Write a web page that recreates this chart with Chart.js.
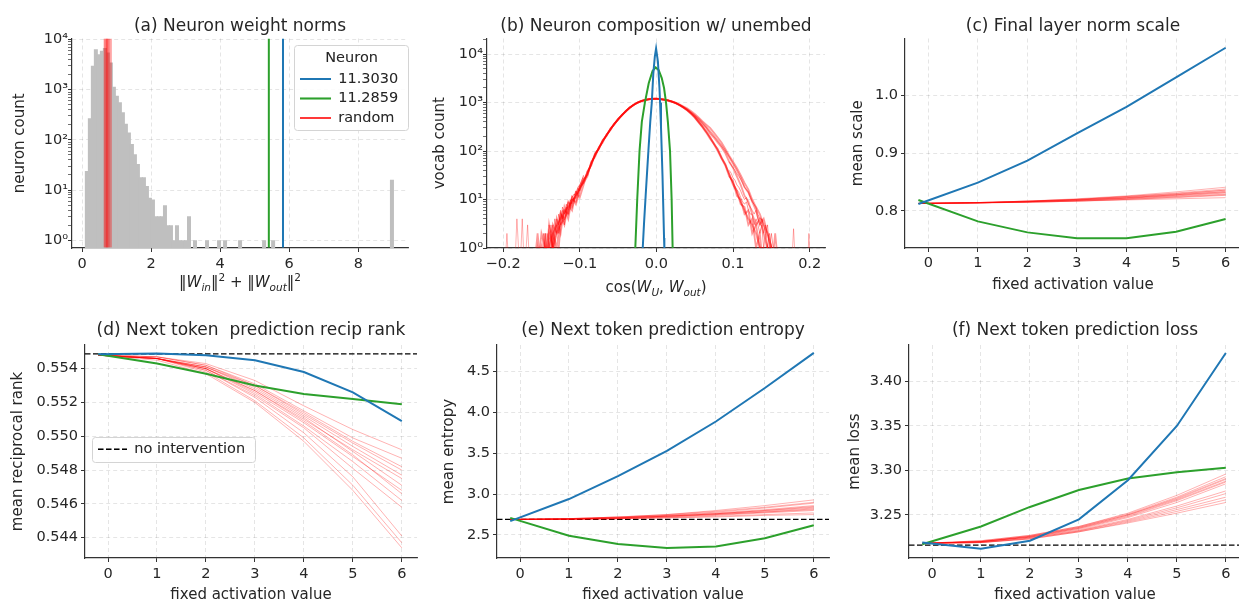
<!DOCTYPE html>
<html>
<head>
<meta charset="utf-8">
<script src="https://cdn.jsdelivr.net/npm/chart.js@4/dist/chart.umd.min.js"></script>
<style>
html, body { margin: 0; padding: 0; background: #fff; overflow: hidden; }
#wrap { position: relative; width: 1239px; height: 604px; overflow: hidden; }
.panel { position: absolute; }
</style>
</head>
<body>
<div id="wrap">
  <div class="panel" style="left:0;top:0"><canvas id="cA" width="415" height="300"></canvas></div>
  <div class="panel" style="left:415px;top:0"><canvas id="cB" width="415" height="300"></canvas></div>
  <div class="panel" style="left:830px;top:0"><canvas id="cC" width="411" height="300"></canvas></div>
  <div class="panel" style="left:0;top:300px"><canvas id="cD" width="420" height="304"></canvas></div>
  <div class="panel" style="left:420px;top:300px"><canvas id="cE" width="415" height="304"></canvas></div>
  <div class="panel" style="left:835px;top:300px"><canvas id="cF" width="406" height="304"></canvas></div>
</div>
<script>
// ---------- (a) neuron weight norms ----------
const aBinX = [0.140, 0.227, 0.314, 0.401, 0.488, 0.575, 0.662, 0.749, 0.836, 0.923,
  1.010, 1.097, 1.184, 1.271, 1.358, 1.445, 1.532, 1.619, 1.706, 1.793,
  1.880, 1.967, 2.054, 2.141, 2.228, 2.315, 2.402, 2.489, 2.576, 2.663,
  2.750, 2.837, 2.924, 3.011, 3.098, 3.272, 3.620, 3.968, 4.142, 4.577,
  5.273, 5.534, 8.975];
const aBinCount = [24, 270, 3000, 6400, 5100, 5950, 6800, 5500, 3500, 1150,
  760, 560, 355, 210, 140, 83, 52, 33, 18, 18,
  12, 7, 6.5, 3, 3, 3, 5, 2, 2, 1,
  2, 1, 1, 1, 3, 1, 1, 1, 1, 1,
  1, 1, 16];
const aRandomX = [0.64, 0.66, 0.67, 0.69, 0.70, 0.71, 0.72, 0.73, 0.74, 0.75, 0.77, 0.78, 0.80, 0.82, 0.85];
const aBlueX = 5.82;
const aGreenX = 5.41;
const aTicksX = [0, 2, 4, 6, 8];
const logMajor = [1, 10, 100, 1000, 10000];
const aMinor = [2, 3, 4, 5, 6, 7, 8, 9, 20, 30, 40, 50, 60, 70, 80, 90,
  200, 300, 400, 500, 600, 700, 800, 900, 2000, 3000, 4000, 5000, 6000, 7000, 8000, 9000];
const bMinor = aMinor.concat([20000]);

// ---------- (b) composition with unembed ----------
const bBlueX = [-0.0178, -0.016, -0.014, -0.012, -0.010, -0.008, -0.006, -0.004, -0.002, -0.0004, 0.002, 0.004, 0.0048, 0.006, 0.008, 0.010, 0.0104];
const bBlueY = [1, 3.5, 12, 40, 130, 400, 1000, 4000, 9000, 13000, 7000, 2000, 1000, 320, 30, 1.6, 1];
const bGreenX = [-0.0275, -0.025, -0.022, -0.019, -0.015, -0.010, -0.005, -0.001, 0.003, 0.007, 0.010, 0.0126, 0.015, 0.0178, 0.0199, 0.0212];
const bGreenY = [1, 10, 100, 400, 1000, 2500, 4500, 5300, 4700, 3200, 2000, 1000, 400, 100, 10, 1];
const bRandX = [-0.160, -0.155, -0.150, -0.145, -0.140, -0.135, -0.130, -0.125, -0.120, -0.115,
  -0.110, -0.105, -0.100, -0.095, -0.090, -0.085, -0.080, -0.075, -0.070, -0.065,
  -0.060, -0.055, -0.050, -0.045, -0.040, -0.035, -0.030, -0.025, -0.020, -0.015,
  -0.010, -0.005, 0.000, 0.005, 0.010, 0.015, 0.020, 0.025, 0.030, 0.035,
  0.040, 0.045, 0.050, 0.055, 0.060, 0.065, 0.070, 0.075, 0.080, 0.085,
  0.090, 0.095, 0.100, 0.105, 0.110, 0.115, 0.120, 0.125, 0.130, 0.135,
  0.140, 0.145, 0.150, 0.155, 0.160];
const bRand = [
  [0.3,0.3,0.3,1,1,2,3,4,5.6,7,9,12,16,24,35,55,83,115,160,215,280,360,450,550,660,780,890,990,1070,1130,1170,1195,1200,1180,1150,1110,1050,980,890,800,700,600,500,400,320,250,190,145,107,75,52,34,22,14,9,6,4,3,2,1,1,0.3,0.3,0.3,0.3],
  [0.3,2,0.3,0.3,3,1,2,5,3,8,6,14,11,20,38,50,90,110,170,205,290,350,460,540,670,770,900,980,1080,1120,1180,1190,1210,1170,1160,1100,1060,970,900,810,720,620,530,440,360,300,230,190,150,120,90,60,45,30,20,12,9,5,3,4,2,1,0.3,2,0.3],
  [0.3,0.3,1,0.3,2,1,0.3,3,6,5,10,9,18,22,30,60,80,120,150,220,270,370,440,560,650,790,880,1000,1060,1140,1160,1200,1190,1190,1140,1120,1040,990,880,790,690,590,490,390,310,240,180,140,100,70,50,30,24,12,10,5,6,2,3,1,0.3,1,0.3,0.3,0.3],
  [1,0.3,0.3,2,0.3,1,4,2,7,4,11,8,15,26,32,58,76,118,165,210,285,355,455,545,665,775,895,985,1075,1125,1175,1190,1205,1185,1155,1105,1055,985,905,815,725,635,545,465,385,315,255,205,165,130,100,75,55,40,28,18,14,9,6,3,4,2,1,0.3,1],
  [0.3,1,0.3,1,0.3,3,2,3,4,9,7,13,17,23,37,52,86,112,158,218,276,365,445,555,655,785,885,995,1065,1135,1165,1200,1195,1175,1145,1115,1045,975,895,795,705,605,505,405,325,255,195,140,110,72,54,33,20,15,8,7,3,4,1,2,0.3,0.3,1,0.3,0.3],
  [0.3,0.3,2,1,0.3,2,1,5,4,6,10,11,19,25,33,54,84,116,162,213,282,362,452,552,662,782,892,992,1072,1132,1172,1198,1202,1182,1152,1112,1062,1002,922,842,762,672,582,492,412,352,300,240,190,150,110,80,60,45,32,22,16,10,7,5,3,2,1,0.3,1]
];
// finer noisy tails of other random neurons
const bTailLX = [-0.1500, -0.1475, -0.1450, -0.1425, -0.1400, -0.1375, -0.1350, -0.1325, -0.1300, -0.1275,
  -0.1250, -0.1225, -0.1200, -0.1175, -0.1150, -0.1125, -0.1100, -0.1075, -0.1050, -0.1025,
  -0.1000, -0.0975, -0.0950];
const bTailL = [
  [0.3, 1, 0.3, 2, 1, 3, 1, 2, 4, 3, 6, 4, 5, 8, 6, 9, 12, 10, 14, 17, 15, 22, 28],
  [1, 0.3, 2, 0.3, 3, 2, 1, 4, 2, 5, 3, 7, 5, 6, 9, 8, 11, 13, 12, 18, 20, 25, 30],
  [0.3, 2, 1, 0.3, 1, 2, 3, 1, 3, 2, 4, 6, 3, 7, 5, 10, 8, 12, 15, 13, 19, 24, 32]
];
const bTailRX = [0.0950, 0.0975, 0.1000, 0.1025, 0.1050, 0.1075, 0.1100, 0.1125, 0.1150, 0.1175,
  0.1200, 0.1225, 0.1250, 0.1275, 0.1300, 0.1325, 0.1350, 0.1375, 0.1400, 0.1425,
  0.1450, 0.1475, 0.1500, 0.1525, 0.1550, 0.1575, 0.1600];
const bTailR = [
  [40, 35, 28, 25, 20, 18, 15, 12, 10, 11, 8, 7, 6, 5, 6, 4, 3, 4, 2, 3, 1, 2, 1, 0.3, 1, 0.3, 0.3],
  [30, 26, 22, 19, 16, 14, 11, 9, 8, 9, 6, 5, 5, 3, 4, 3, 2, 3, 1, 2, 0.3, 1, 0.3, 1, 0.3, 0.3, 0.3],
  [60, 52, 45, 40, 34, 30, 26, 22, 18, 16, 14, 11, 9, 8, 7, 5, 4, 4, 3, 2, 3, 1, 2, 1, 0.3, 1, 0.3]
];
const bSpikeLX = [-0.198, -0.195, -0.192, -0.185, -0.182, -0.178, -0.175, -0.172, -0.168, -0.165];
const bSpikeLY = [0.3, 2, 0.3, 0.3, 4, 0.3, 4, 0.3, 3, 0.3];
const bSpikeRX = [0.176, 0.179, 0.182, 0.197, 0.199, 0.201];
const bSpikeRY = [0.3, 2.5, 0.3, 0.3, 2, 0.3];
const bTicksX = [-0.2, -0.1, 0, 0.1, 0.2];

// ---------- (c)-(f) fixed activation sweeps ----------
const actX = [-0.2, 1, 2, 3, 4, 5, 6];
const actTicks = [0, 1, 2, 3, 4, 5, 6];

const cBlue = [0.812, 0.849, 0.887, 0.934, 0.980, 1.031, 1.082];
const cGreen = [0.819, 0.782, 0.763, 0.753, 0.753, 0.764, 0.786];
const cRand = [
  [0.813, 0.814, 0.816, 0.819, 0.823, 0.828, 0.834],
  [0.813, 0.814, 0.816, 0.818, 0.822, 0.826, 0.831],
  [0.813, 0.8145, 0.817, 0.820, 0.825, 0.831, 0.838],
  [0.813, 0.814, 0.815, 0.817, 0.820, 0.823, 0.827],
  [0.813, 0.8145, 0.817, 0.821, 0.826, 0.833, 0.841],
  [0.813, 0.814, 0.816, 0.818, 0.821, 0.825, 0.829],
  [0.813, 0.814, 0.815, 0.817, 0.819, 0.821, 0.823],
  [0.813, 0.814, 0.816, 0.819, 0.822, 0.827, 0.832],
  [0.813, 0.8145, 0.817, 0.820, 0.824, 0.829, 0.836],
  [0.813, 0.814, 0.816, 0.819, 0.823, 0.828, 0.833],
  [0.813, 0.814, 0.815, 0.817, 0.820, 0.824, 0.828],
  [0.813, 0.8145, 0.817, 0.820, 0.825, 0.830, 0.836]
];
const cTicksY = [0.8, 0.9, 1.0];

const dBaseline = 0.55488;
const dBlue = [0.55485, 0.5549, 0.5548, 0.5545, 0.5538, 0.5526, 0.5509];
const dGreen = [0.55485, 0.5543, 0.5537, 0.5530, 0.5525, 0.5522, 0.5519];
const dRand = [
  [0.5548, 0.5547, 0.5543, 0.5533, 0.5518, 0.5504, 0.5492],
  [0.5548, 0.5546, 0.5541, 0.5530, 0.5514, 0.5497, 0.5482],
  [0.5548, 0.5546, 0.5540, 0.5527, 0.5510, 0.5492, 0.5475],
  [0.5548, 0.5546, 0.5539, 0.5524, 0.5505, 0.5481, 0.5458],
  [0.5548, 0.5546, 0.5541, 0.5529, 0.5512, 0.5494, 0.5477],
  [0.5548, 0.5547, 0.5542, 0.5531, 0.5515, 0.5499, 0.5487],
  [0.5548, 0.5546, 0.5540, 0.5526, 0.5508, 0.5488, 0.5468],
  [0.5548, 0.5546, 0.5538, 0.5521, 0.5499, 0.5471, 0.5437],
  [0.5548, 0.5545, 0.5537, 0.5520, 0.5497, 0.5468, 0.5434],
  [0.5548, 0.5546, 0.5539, 0.5523, 0.5502, 0.5476, 0.5441],
  [0.5548, 0.5546, 0.5540, 0.5527, 0.5509, 0.5489, 0.5466],
  [0.5548, 0.5546, 0.5541, 0.5528, 0.5511, 0.5491, 0.5471],
  [0.5548, 0.5547, 0.5542, 0.5530, 0.5513, 0.5496, 0.5480],
  [0.5548, 0.5546, 0.5540, 0.5525, 0.5506, 0.5485, 0.5462]
];
const dTicksY = [0.544, 0.546, 0.548, 0.550, 0.552, 0.554];

const eBaseline = 2.69;
const eBlue = [2.67, 2.94, 3.22, 3.53, 3.89, 4.30, 4.73];
const eGreen = [2.71, 2.49, 2.39, 2.34, 2.36, 2.46, 2.62];
const eRand = [
  [2.69, 2.695, 2.71, 2.73, 2.76, 2.80, 2.85],
  [2.69, 2.70, 2.72, 2.75, 2.80, 2.86, 2.93],
  [2.69, 2.695, 2.70, 2.72, 2.74, 2.77, 2.80],
  [2.69, 2.695, 2.71, 2.73, 2.76, 2.79, 2.83],
  [2.69, 2.69, 2.70, 2.71, 2.73, 2.75, 2.77],
  [2.69, 2.70, 2.72, 2.74, 2.78, 2.83, 2.89],
  [2.69, 2.695, 2.71, 2.73, 2.75, 2.78, 2.82],
  [2.69, 2.69, 2.70, 2.71, 2.72, 2.74, 2.75],
  [2.69, 2.70, 2.71, 2.74, 2.77, 2.81, 2.86],
  [2.69, 2.695, 2.71, 2.73, 2.76, 2.80, 2.84],
  [2.69, 2.70, 2.72, 2.75, 2.79, 2.84, 2.90],
  [2.69, 2.695, 2.70, 2.72, 2.75, 2.78, 2.81]
];
const eTicksY = [2.5, 3.0, 3.5, 4.0, 4.5];

const fBaseline = 3.216;
const fBlue = [3.219, 3.212, 3.221, 3.245, 3.289, 3.350, 3.432];
const fGreen = [3.217, 3.237, 3.259, 3.278, 3.291, 3.298, 3.303];
const fRand = [
  [3.218, 3.220, 3.226, 3.236, 3.250, 3.268, 3.290],
  [3.218, 3.220, 3.225, 3.234, 3.247, 3.264, 3.285],
  [3.218, 3.221, 3.227, 3.237, 3.252, 3.272, 3.296],
  [3.218, 3.219, 3.224, 3.232, 3.243, 3.256, 3.270],
  [3.218, 3.219, 3.223, 3.231, 3.241, 3.252, 3.264],
  [3.218, 3.220, 3.226, 3.235, 3.249, 3.267, 3.288],
  [3.218, 3.220, 3.225, 3.233, 3.245, 3.260, 3.277],
  [3.218, 3.221, 3.227, 3.237, 3.251, 3.270, 3.293],
  [3.218, 3.219, 3.224, 3.232, 3.244, 3.258, 3.274],
  [3.218, 3.220, 3.225, 3.235, 3.248, 3.266, 3.287],
  [3.218, 3.220, 3.226, 3.236, 3.250, 3.269, 3.291],
  [3.218, 3.219, 3.223, 3.231, 3.242, 3.254, 3.267]
];
const fTicksY = [3.25, 3.30, 3.35, 3.40];

// ---------- styling ----------
const BLUE = '#1f77b4';
const GREEN = '#2ca02c';
const RED_THIN = 'rgba(255,0,0,0.3)';
const TXT = '#262626';
const SPINE = '#333333';
const GRID = 'rgba(0,0,0,0.13)';
const ACT_MIN = -0.47, ACT_MAX = 6.31;

Chart.defaults.font.family = '"DejaVu Sans", sans-serif';
Chart.defaults.color = TXT;

const pts = (xs, ys) => xs.map((x, i) => ({ x: x, y: ys[i] }));

function line(label, xs, ys, color, width, extra) {
  return Object.assign({
    type: 'line', label: label, data: pts(xs, ys),
    borderColor: color, backgroundColor: color, borderWidth: width,
    pointRadius: 0, fill: false, tension: 0
  }, extra || {});
}

// rich text for the math axis labels
function drawMath(ctx, parts, cx, baseline, size) {
  const fontOf = p => (p.it ? 'italic ' : '') + ((p.sub || p.sup) ? size * 0.7 : size) + 'px "DejaVu Sans"';
  let total = 0;
  parts.forEach(p => { ctx.font = fontOf(p); total += ctx.measureText(p.t).width; });
  let x = cx - total / 2;
  ctx.save();
  ctx.fillStyle = TXT;
  ctx.textAlign = 'left';
  ctx.textBaseline = 'alphabetic';
  parts.forEach(p => {
    ctx.font = fontOf(p);
    const dy = p.sub ? size * 0.24 : (p.sup ? -size * 0.42 : 0);
    ctx.fillText(p.t, x, baseline + dy);
    x += ctx.measureText(p.t).width;
  });
  ctx.restore();
}

// legend placement + frame, math x labels
const mpl = {
  id: 'mpl',
  afterLayout(chart, args, o) {
    const lg = chart.legend;
    if (o.legendAt && lg) {
      lg.left = o.legendAt[0];
      lg.top = o.legendAt[1];
      lg.right = lg.left + lg.width;
      lg.bottom = lg.top + lg.height;
    }
  },
  afterDatasetsDraw(chart, args, o) {
    const lg = chart.legend;
    if (!o.legendAt || !lg || !lg.legendHitBoxes.length) return;
    const hb = lg.legendHitBoxes;
    const x0 = lg.left - 1, y0 = lg.top;
    const x1 = Math.max(...hb.map(b => b.left + b.width)) + 10;
    const y1 = Math.max(...hb.map(b => b.top + b.height)) + 5;
    const ctx = chart.ctx;
    ctx.save();
    ctx.beginPath();
    ctx.roundRect(Math.round(x0) + 0.5, Math.round(y0) + 0.5, Math.round(x1 - x0), Math.round(y1 - y0), 3);
    ctx.fillStyle = 'rgba(255,255,255,0.85)';
    ctx.fill();
    ctx.strokeStyle = '#d4d4d4';
    ctx.lineWidth = 1;
    ctx.stroke();
    ctx.restore();
    lg.draw();
  },
  afterDraw(chart, args, o) {
    if (o.math) {
      const a = chart.chartArea;
      drawMath(chart.ctx, o.math, (a.left + a.right) / 2, o.mathY, 15);
    }
  }
};

function axis(o) {
  const major = o.major || o.ticks;
  const all = o.minor ? o.ticks.concat(o.minor) : o.ticks;
  return {
    type: o.type || 'linear',
    min: o.min, max: o.max,
    offset: false,
    grid: {
      offset: false,
      color: c => (c.tick && major.indexOf(c.tick.value) >= 0) ? GRID : 'rgba(0,0,0,0)',
      lineWidth: 0.8,
      tickLength: 4,
      tickColor: SPINE,
      tickWidth: c => (c.tick && major.indexOf(c.tick.value) >= 0) ? 1 : 0.7,
      tickBorderDash: []
    },
    border: { color: SPINE, width: 1.2, dash: [4, 3] },
    ticks: {
      font: { size: 14.5 }, color: TXT, padding: o.tickPad,
      autoSkip: false, maxRotation: 0,
      callback: v => major.indexOf(v) >= 0 ? o.fmt(v) : ''
    },
    title: o.title
      ? { display: true, text: o.title, font: { size: 15 }, color: TXT, padding: o.titlePad }
      : { display: false },
    afterBuildTicks: s => { s.ticks = all.map(v => ({ value: v })); },
    afterFit: s => {
      if (o.w !== undefined) s.width = o.w;
      if (o.h !== undefined) s.height = o.h;
    }
  };
}

function panel(id, type, datasets, o) {
  return new Chart(document.getElementById(id), {
    type: type,
    data: { datasets: datasets },
    options: {
      responsive: false, devicePixelRatio: 1, animation: false,
      layout: { padding: { left: 0, right: o.padR, top: 0, bottom: 0 } },
      plugins: {
        title: {
          display: true, text: o.title, fullSize: false,
          font: { size: 17, weight: 'normal' }, color: TXT,
          padding: { top: o.tTop, bottom: o.tBot }
        },
        legend: o.legend || { display: false },
        tooltip: { enabled: false },
        mpl: o.mpl || {}
      },
      scales: { x: axis(o.x), y: axis(o.y) }
    },
    plugins: [mpl]
  });
}

const supDigits = ['\u2070', '\u00b9', '\u00b2', '\u00b3', '\u2074'];
const fmtLog = v => '10' + supDigits[Math.round(Math.log10(v))];
const fmtSigned = v => (v < 0 ? '\u2212' : '') + Math.abs(v).toFixed(1);

function legendItems(ch) {
  return Chart.defaults.plugins.legend.labels.generateLabels(ch)
    .filter(l => l.text)
    .map(l => {
      const ds = ch.data.datasets[l.datasetIndex];
      l.lineDash = ds.borderDash || [];
      if (l.text === 'random') { l.strokeStyle = '#ff0000'; l.lineWidth = 1.4; }
      return l;
    });
}

// ---------- (a) ----------
const A_YMIN = 0.72, A_YMAX = 10500;
const aSets = [
  line('11.3030', [aBlueX, aBlueX], [A_YMIN, A_YMAX], BLUE, 2),
  line('11.2859', [aGreenX, aGreenX], [A_YMIN, A_YMAX], GREEN, 2)
];
aRandomX.forEach((v, i) => aSets.push(line(i === 0 ? 'random' : '', [v, v], [A_YMIN, A_YMAX], 'rgba(255,0,0,0.35)', 1)));
aSets.push({
  type: 'bar', label: '', data: pts(aBinX, aBinCount),
  backgroundColor: '#bfbfbf', borderWidth: 0,
  barThickness: 4, grouped: false, inflateAmount: 0
});
panel('cA', 'bar', aSets, {
  title: '(a) Neuron weight norms', tTop: 16.3, tBot: 1.8, padR: 7,
  x: { min: -0.29, max: 9.44, ticks: aTicksX, fmt: v => String(v), tickPad: 4, h: 52 },
  y: { type: 'logarithmic', min: A_YMIN, max: A_YMAX, ticks: logMajor, minor: aMinor, fmt: fmtLog,
       tickPad: 0, w: 72, title: 'neuron count', titlePad: { top: 11, bottom: 0 } },
  legend: {
    display: true, position: 'chartArea', align: 'start',
    title: { display: true, text: 'Neuron', color: TXT, font: { size: 14.5 }, padding: { top: 6, bottom: -2 } },
    labels: { usePointStyle: true, pointStyle: 'line', pointStyleWidth: 31, font: { size: 14.5 },
              color: TXT, padding: 5, generateLabels: legendItems }
  },
  mpl: {
    legendAt: [295, 45.4], mathY: 287,
    math: [{ t: '\u2016' }, { t: 'W', it: true }, { t: 'in', it: true, sub: true }, { t: '\u2016' }, { t: '2', sup: true },
           { t: ' + \u2016' }, { t: 'W', it: true }, { t: 'out', it: true, sub: true }, { t: '\u2016' }, { t: '2', sup: true }]
  }
});

// ---------- (b) ----------
const bSets = [
  line('', bBlueX, bBlueY, BLUE, 2),
  line('', bGreenX, bGreenY, GREEN, 2)
];
bRand.forEach(ys => bSets.push(line('', bRandX, ys, 'rgba(255,0,0,0.4)', 1.8)));
bTailL.forEach(ys => bSets.push(line('', bTailLX, ys, 'rgba(255,0,0,0.4)', 1)));
bTailR.forEach(ys => bSets.push(line('', bTailRX, ys, 'rgba(255,0,0,0.4)', 1)));
bSets.push(line('', bSpikeLX, bSpikeLY, 'rgba(255,0,0,0.35)', 0.9));
bSets.push(line('', bSpikeRX, bSpikeRY, 'rgba(255,0,0,0.35)', 0.9));
panel('cB', 'line', bSets, {
  title: '(b) Neuron composition w/ unembed', tTop: 16.3, tBot: 1.8, padR: 5,
  x: { min: -0.221, max: 0.22, ticks: bTicksX, fmt: fmtSigned, tickPad: 4, h: 52 },
  y: { type: 'logarithmic', min: 1, max: 21000, ticks: logMajor, minor: bMinor, fmt: fmtLog,
       tickPad: 0, w: 72, title: 'vocab count', titlePad: { top: 16, bottom: 0 } },
  mpl: {
    mathY: 292,
    math: [{ t: 'cos(' }, { t: 'W', it: true }, { t: 'U', it: true, sub: true }, { t: ', ' },
           { t: 'W', it: true }, { t: 'out', it: true, sub: true }, { t: ')' }]
  }
});

// ---------- (c)-(f) ----------
function sweepSets(blue, green, rand, baseline, legendLabel) {
  const sets = [line('', actX, blue, BLUE, 2), line('', actX, green, GREEN, 2)];
  rand.forEach(ys => sets.push(line('', actX, ys, RED_THIN, 1)));
  if (baseline !== undefined) {
    sets.push(line(legendLabel || '', [ACT_MIN, ACT_MAX], [baseline, baseline], '#000000', 1.3, { borderDash: [5.5, 2.5] }));
  }
  return sets;
}

panel('cC', 'line', sweepSets(cBlue, cGreen, cRand), {
  title: '(c) Final layer norm scale', tTop: 16.3, tBot: 1.8, padR: 0,
  x: { min: ACT_MIN, max: ACT_MAX, ticks: actTicks, fmt: v => String(v), tickPad: 3, h: 52,
       title: 'fixed activation value', titlePad: { top: 0, bottom: 6 } },
  y: { min: 0.736, max: 1.098, ticks: cTicksY, fmt: v => v.toFixed(1), tickPad: 3, w: 75,
       title: 'mean scale', titlePad: { top: 19, bottom: 0 } }
});

panel('cD', 'line', sweepSets(dBlue, dGreen, dRand, dBaseline, 'no intervention'), {
  title: '(d) Next token  prediction recip rank', tTop: 20.8, tBot: 3.8, padR: 3,
  x: { min: ACT_MIN, max: ACT_MAX, ticks: actTicks, fmt: v => String(v), tickPad: 4, h: 46,
       title: 'fixed activation value', titlePad: { top: 0, bottom: 0 } },
  y: { min: 0.5428, max: 0.5554, ticks: dTicksY, fmt: v => v.toFixed(3), tickPad: 3, w: 85,
       title: 'mean reciprocal rank', titlePad: { top: 9, bottom: 0 } },
  legend: {
    display: true, position: 'chartArea', align: 'start',
    labels: { usePointStyle: true, pointStyle: 'line', pointStyleWidth: 29, font: { size: 14.5 },
              color: TXT, padding: 5, generateLabels: legendItems }
  },
  mpl: { legendAt: [93, 137] }
});

panel('cE', 'line', sweepSets(eBlue, eGreen, eRand, eBaseline), {
  title: '(e) Next token prediction entropy', tTop: 20.8, tBot: 3.8, padR: 6,
  x: { min: ACT_MIN, max: ACT_MAX, ticks: actTicks, fmt: v => String(v), tickPad: 4, h: 46,
       title: 'fixed activation value', titlePad: { top: 0, bottom: 0 } },
  y: { min: 2.218, max: 4.827, ticks: eTicksY, fmt: v => v.toFixed(1), tickPad: 3, w: 77,
       title: 'mean entropy', titlePad: { top: 20, bottom: 0 } }
});

panel('cF', 'line', sweepSets(fBlue, fGreen, fRand, fBaseline), {
  title: '(f) Next token prediction loss', tTop: 20.8, tBot: 3.8, padR: 0,
  x: { min: ACT_MIN, max: ACT_MAX, ticks: actTicks, fmt: v => String(v), tickPad: 4, h: 46,
       title: 'fixed activation value', titlePad: { top: 0, bottom: 0 } },
  y: { min: 3.2016, max: 3.441, ticks: fTicksY, fmt: v => v.toFixed(2), tickPad: 3, w: 74,
       title: 'mean loss', titlePad: { top: 11, bottom: 0 } }
});
</script>
</body>
</html>
